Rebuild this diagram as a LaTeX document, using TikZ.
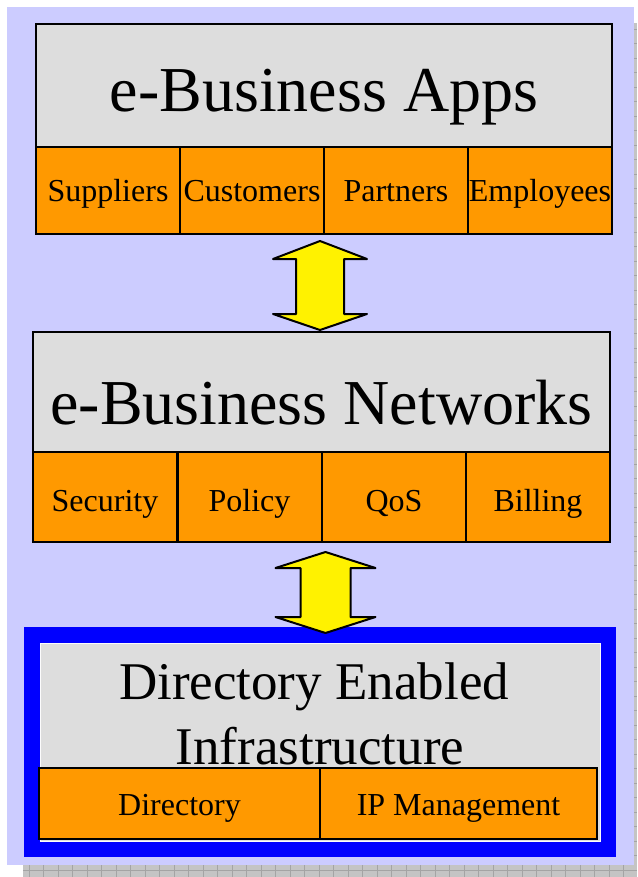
\documentclass[tikz,border=0pt]{standalone}
\usepackage{fontspec}
\setmainfont{Liberation Serif}
\usetikzlibrary{calc}
\definecolor{lav}{HTML}{CCCCFF}
\definecolor{hdrgray}{HTML}{DDDDDD}
\definecolor{orng}{HTML}{FF9900}
\definecolor{shad}{HTML}{C4C4C4}
\definecolor{shadline}{HTML}{A4A4A4}
\begin{document}
\begin{tikzpicture}[x=1pt,y=-1pt,
  hdr/.style={draw=black, line width=2pt, fill=hdrgray, inner sep=0pt,
    font=\fontsize{64}{70}\selectfont},
  cell/.style={draw=black, line width=2pt, fill=orng, inner sep=0pt,
    minimum width=144pt, font=\fontsize{32}{36}\selectfont},
  bigtitle/.style={inner sep=0pt, anchor=base, font=\fontsize{53}{60}\selectfont},
  dblarrow/.style={draw=black, line width=2pt, fill=yellow, line join=round}
]
\useasboundingbox (0,0) rectangle (637,877);
% shadow with grid
\fill[shad] (23,23) rectangle (637,877);
\begin{scope}
\clip (23,23) rectangle (637,877);
\draw[shadline, line width=0.7pt] (23,23) grid[step=14.5pt] (637,877);
\end{scope}
% lavender page
\fill[lav] (7,7) rectangle (634,865);

% top block
\node[hdr, minimum width=576pt, minimum height=123pt, text height=54pt, text depth=1pt] (apps) at (324,85.5) {e-Business Apps};
\node[cell, minimum height=87pt, text height=24pt, text depth=1pt] (sup) at (108,190.5) {Suppliers};
\node[cell, minimum height=87pt, text height=24pt, text depth=1pt] (cus) at (252,190.5) {Customers};
\node[cell, minimum height=87pt, text height=24pt, text depth=1pt] (par) at (396,190.5) {Partners};
\node[cell, minimum height=87pt, text height=24pt, text depth=1pt] (emp) at (540,190.5) {Employees};

% middle block
\node[hdr, minimum width=577pt, minimum height=120pt, text height=64pt, text depth=0pt] (nets) at (321.5,392) {e-Business Networks};
\node[cell, minimum height=90pt, text height=28pt, text depth=0pt] (sec) at (105,497) {Security};
\node[cell, minimum height=90pt, text height=28pt, text depth=0pt] (pol) at (249.5,497) {Policy};
\node[cell, minimum height=90pt, text height=28pt, text depth=0pt] (qos) at (394,497) {QoS};
\node[cell, minimum height=90pt, text height=28pt, text depth=0pt] (bil) at (538,497) {Billing};

% bottom block
\node[fill=blue, inner sep=0pt, minimum width=592pt, minimum height=230pt] (frame) at (320,742) {};
\node[fill=hdrgray, draw=white!90!hdrgray, line width=0.8pt, inner sep=0pt, minimum width=560pt, minimum height=198pt] (dei) at (320,742) {};
\node[bigtitle] (dei1) at (314,699) {Directory Enabled};
\node[bigtitle] (dei2) at (320,764) {Infrastructure};
\node[cell, minimum width=281pt, minimum height=71pt, text height=24pt, text depth=1pt] (dir) at (179.5,803.5) {Directory};
\node[cell, minimum width=277pt, minimum height=71pt, text height=24pt, text depth=1pt] (ipm) at (458.5,803.5) {IP Management};

% arrows
\coordinate (a1) at (320,285.5);
\draw[dblarrow] ($(a1)+(0,-44.5)$) -- ++(47,18) -- ++(-23,0) -- ++(0,55) -- ++(23,0)
  -- ($(a1)+(0,44.5)$) -- ++(-47,-16) -- ++(23,0) -- ++(0,-55) -- ++(-23,0) -- cycle;
\coordinate (a2) at (325.5,592.5);
\draw[dblarrow] ($(a2)+(0,-40.5)$) -- ++(50,16) -- ++(-25,0) -- ++(0,49) -- ++(25,0)
  -- ($(a2)+(0,40.5)$) -- ++(-50,-16) -- ++(25,0) -- ++(0,-49) -- ++(-25,0) -- cycle;
\end{tikzpicture}
\end{document}
